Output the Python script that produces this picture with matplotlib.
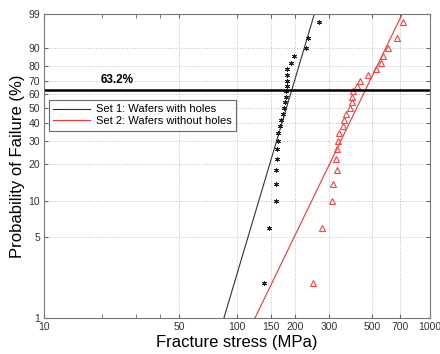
import numpy as np
import matplotlib
matplotlib.use('Agg')
import matplotlib.pyplot as plt
from matplotlib.ticker import FixedLocator, FixedFormatter, NullFormatter

# ---- data ----
prob_levels = [2, 6, 10, 14, 18, 22, 26, 30, 34, 38, 42, 46, 50,
               54, 58, 62, 66, 70, 74, 78, 82, 86, 90, 94, 98]
set1_stress = [138.5, 147.1, 158.7, 159.3, 159.3, 160.6, 160.6, 162.5, 163.7,
               167.0, 169.6, 172.5, 175.8, 177.3, 178.8, 180.0, 180.9, 180.9,
               181.5, 181.5, 189.8, 196.7, 227.9, 233.4, 267.0]
set2_stress = [246.7, 276.7, 309.6, 313.3, 328.6, 327.0, 328.6, 334.9, 337.7,
               352.9, 358.4, 365.8, 385.1, 393.0, 395.8, 399.1, 420.2, 433.9,
               475.6, 523.2, 557.4, 572.8, 603.7, 672.2, 722.0]
fit_prob = [1, 99]
set1_fit_stress = [85.6, 252.0]
set2_fit_stress = [124.0, 719.0]
char_prob = 63.2
x_ticks = [10, 50, 100, 150, 200, 300, 500, 700, 1000]
x_minor = [20, 30, 40]
y_ticks = [1, 5, 10, 20, 30, 40, 50, 60, 70, 80, 90, 99]
labels = ['Set 1: Wafers with holes', 'Set 2: Wafers without holes']

plt.rcParams['font.family'] = ['Liberation Sans', 'DejaVu Sans']


def fwd(p):
    p = np.clip(np.asarray(p, dtype=float), 1e-6, 100 - 1e-6)
    return np.log(-np.log(1 - p / 100.0))


def inv(y):
    return 100.0 * (1 - np.exp(-np.exp(np.asarray(y, dtype=float))))


fig = plt.figure(figsize=(4.4, 3.54), dpi=100)
ax = fig.add_axes([0.1, 0.1017, 0.877, 0.8588])
ax.set_xscale('log')
ax.set_yscale('function', functions=(fwd, inv))
ax.set_xlim(10, 1000)
ax.set_ylim(1, 99)

ax.xaxis.set_major_locator(FixedLocator(x_ticks))
ax.xaxis.set_major_formatter(FixedFormatter([str(v) for v in x_ticks]))
ax.xaxis.set_minor_locator(FixedLocator(x_minor))
ax.xaxis.set_minor_formatter(NullFormatter())
ax.yaxis.set_major_locator(FixedLocator(y_ticks))
ax.yaxis.set_major_formatter(FixedFormatter([str(v) for v in y_ticks]))
ax.yaxis.set_minor_locator(FixedLocator([]))

ax.grid(True, which='major', linestyle=':', color='#c0c0c0', linewidth=0.7)
ax.tick_params(which='both', direction='in', top=True, right=True,
               labelsize=7.5, labelcolor='#333333', color='#666666', length=3, pad=3)
for s in ax.spines.values():
    s.set_color('#777777')
    s.set_linewidth(0.8)

ax.plot(set1_fit_stress, fit_prob, color='#333333', lw=0.8, label=labels[0])
ax.plot(set2_fit_stress, fit_prob, color='#ff3030', lw=0.8, label=labels[1])
ax.plot(set1_stress, prob_levels, linestyle='none', marker=(6, 2, 0),
        markersize=3.5, color='#222222', markeredgewidth=0.7)
ax.plot(set2_stress, prob_levels, linestyle='none', marker='^',
        markersize=5, markerfacecolor='none', markeredgecolor='#ff4040',
        markeredgewidth=0.8)

ax.axhline(char_prob, color='black', lw=1.8)
ax.annotate('63.2%', xy=(24, char_prob), xytext=(0, 2.5), textcoords='offset points',
            ha='center', va='bottom', fontsize=8.5, fontweight='bold')

leg = ax.legend(loc='upper left', bbox_to_anchor=(0.013, 0.717), borderaxespad=0,
                fontsize=8, frameon=True, fancybox=False, edgecolor='#444444',
                handlelength=3.3, handletextpad=0.5, labelspacing=0.15,
                borderpad=0.4)
leg.get_frame().set_linewidth(0.8)

ax.set_xlabel('Fracture stress (MPa)', fontsize=12, labelpad=2)
ax.set_ylabel('Probability of Failure (%)', fontsize=12, labelpad=2)

fig.savefig('out.png', dpi=100)
